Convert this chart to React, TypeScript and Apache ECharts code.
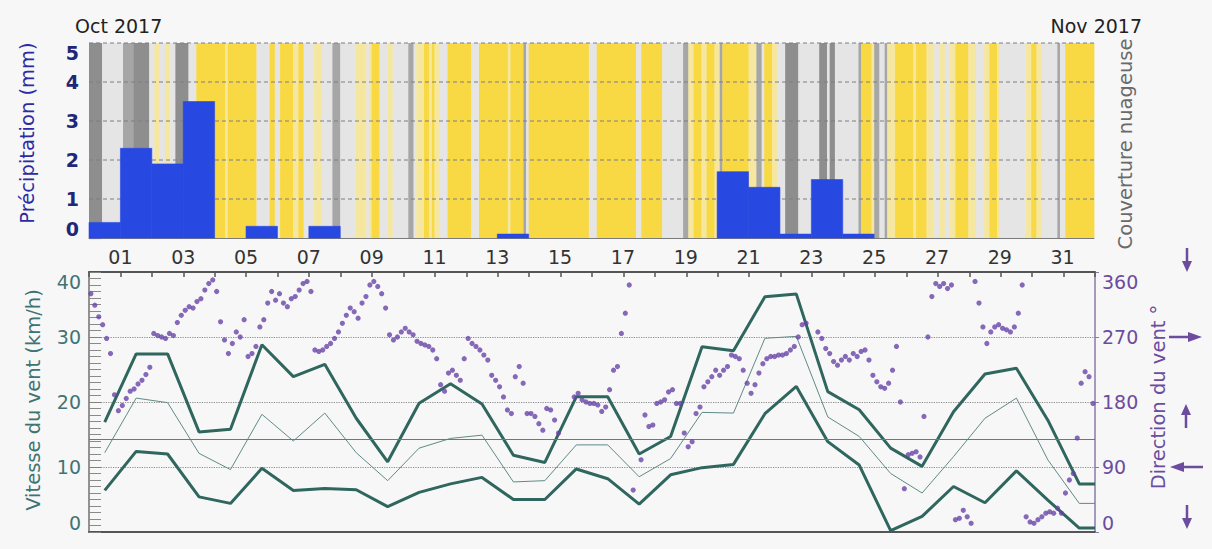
import React, { useEffect, useRef } from "react";
import * as echarts from "echarts";

// ---------- DATA ----------
const dayTickLabels = ["01","03","05","07","09","11","13","15","17","19","21","23","25","27","29","31"];
const monthLabels = ["Oct 2017", "Nov 2017"];
const precipTicks = [1, 2, 3, 4, 5];

// daily precipitation (mm), one bar per day slot (32 slots)
const precipitation = [0.4, 2.3, 1.9, 3.5, 0, 0.3, 0, 0.3, 0, 0, 0, 0, 0, 0.1, 0, 0,
  0, 0, 0, 0, 1.7, 1.3, 0.1, 1.5, 0.1, 0, 0, 0, 0, 0, 0, 0];

// cloud cover per day, 12 two-hour slots: y=sunny, p=few clouds, l=cloudy, m=overcast, d=dense
const cloudCodes = "yplmd";
const cloudColors = ["#f8d944", "#f6e7a0", "#e5e5e5", "#a6a6a6", "#8e8e8e"];
const cloudCover = [
  "dddddlllllll", "lmmmmddddddl", "lppllppllddd", "ddlllyyyyyyy",
  "yyyypyyyyyyy", "yyyylllllyyl", "lyyyyyppyyll", "llpppllllmmm",
  "llllllpppplp", "yyylllppllll", "llmmlpppyypy", "pplllyyyyyyy",
  "yylllyyyyyyy", "yyyypyyyyyml", "yyyyyyyyyyyy", "yyyyyyyyyyyl",
  "llyyyyyyyyyy", "yyyyyllyyyyy", "yyyllllllllm", "mppyyyppyyyp",
  "pmyyyyyyyyyy", "pppmmlyyyppl", "lldddddlllll", "llldddlddlll",
  "llllllmyyyyp", "mmllmpppyyyy", "yyypyyyypppl", "lppllppyyyyy",
  "ppplllppyyyp", "llllllllllpp", "yyppllllllml", "lyyyyyyyyyyy",
];

// daily wind speed (km/h)
const windMax = [16.9, 27.4, 27.4, 15.4, 15.8, 28.8, 23.9, 25.8, 17.5, 10.8, 19.8, 22.8, 19.7, 11.8, 10.7, 20.8,
  20.8, 12.0, 14.7, 28.5, 27.9, 36.2, 36.6, 21.6, 18.8, 12.9, 10.1, 18.5, 24.3, 25.2, 17.2, 7.4];
const windMean = [12.2, 20.6, 19.9, 12.1, 9.6, 18.1, 14.0, 18.3, 12.2, 7.9, 12.9, 14.4, 14.9, 7.7, 7.9, 13.4,
  13.4, 8.5, 11.3, 18.4, 18.3, 29.8, 30.1, 17.7, 14.7, 9.0, 6.0, 11.6, 17.5, 20.6, 11.1, 4.4];
const windMin = [6.4, 12.4, 12.0, 5.4, 4.4, 9.8, 6.4, 6.7, 6.5, 3.9, 6.1, 7.4, 8.4, 5.0, 5.0, 9.7,
  8.2, 4.3, 8.8, 9.9, 10.4, 18.2, 22.4, 13.9, 10.3, 0.2, 2.4, 7.0, 4.5, 9.4, 4.9, 0.6];
const windReference = 14.3;

// wind direction (degrees), 8 three-hour readings per day
const windDirection = [
  [330, 314, 298, 287, 268, 247, 190, 168],
  [175, 185, 195, 198, 205, 210, 218, 228],
  [275, 272, 270, 268, 275, 272, 290, 300],
  [307, 312, 310, 319, 323, 335, 344, 349],
  [333, 291, 266, 247, 261, 277, 270, 294],
  [243, 247, 257, 284, 294, 317, 333, 321],
  [330, 317, 312, 323, 326, 335, 344, 347],
  [333, 252, 250, 252, 257, 261, 268, 277],
  [289, 300, 310, 305, 296, 317, 326, 342],
  [347, 340, 330, 310, 273, 266, 270, 277],
  [282, 277, 273, 264, 261, 259, 257, 252],
  [240, 204, 195, 220, 224, 217, 210, 240],
  [268, 261, 257, 252, 245, 238, 217, 210],
  [201, 187, 169, 164, 215, 229, 206, 164],
  [164, 160, 150, 141, 171, 169, 155, 137],
  [null, null, null, 187, 192, 183, 180, 178],
  [178, 176, 167, 173, 197, 224, 229, 275],
  [303, 342, 58, null, 100, 162, 146, 148],
  [178, 180, 183, 194, 197, 178, 178, 137],
  [118, 125, 164, 173, 201, 208, 215, 224],
  [217, 224, 229, 245, 243, 240, 224, 206],
  [192, 204, 220, 233, 240, 243, 243, 245],
  [245, 247, 252, 257, 270, 287, 289, null],
  [null, 277, 268, 254, 247, 236, 231, 238],
  [243, 238, 247, 243, 250, 252, 238, 217],
  [208, 201, 199, 206, 224, 257, 180, 60],
  [107, 109, 111, 104, 160, 270, 326, 344],
  [340, 344, 337, 342, 17, 19, 30, 21],
  [12, 347, 317, 284, 261, 277, 284, 287],
  [282, 280, 277, 284, 303, 342, 21, 14],
  [12, 17, 21, 26, 28, 26, 33, 26],
  [54, 72, 81, 130, 206, 222, 215, 178],
];

// ---------- HELPERS ----------
const FONT = "DejaVu Sans";
const DAYS = precipitation.length;
const dayTicks = dayTickLabels.map((s) => parseInt(s, 10));

function cloudRuns() {
  const runs: number[][] = [];
  cloudCover.forEach((day, d) => {
    const n = day.length;
    for (let s = 0; s < n; s++) {
      const k = cloudCodes.indexOf(day[s]);
      const t0 = d + s / n;
      const t1 = d + (s + 1) / n;
      const last = runs[runs.length - 1];
      if (last && last[2] === k && Math.abs(last[1] - t0) < 1e-9) last[1] = t1;
      else runs.push([t0, t1, k]);
    }
  });
  return runs;
}

function dailyLine(vals: number[]) {
  const pts = vals.map((v, i) => [i + 0.5, v]);
  pts.push([DAYS, vals[vals.length - 1]]);
  return pts;
}

function directionPoints() {
  const pts: number[][] = [];
  windDirection.forEach((day, d) => {
    day.forEach((v, s) => {
      if (v !== null) pts.push([d + s / day.length + 0.06, v as number]);
    });
  });
  return pts;
}

const PURPLE = "#6b4c9f";

function arrow(cx: number, cy: number, dir: string) {
  const c = PURPLE;
  let shaft: number[], head: number[][];
  if (dir === "down") { shaft = [cx, cy - 12, cx, cy + 3]; head = [[cx - 5, cy + 1], [cx + 5, cy + 1], [cx, cy + 12]]; }
  else if (dir === "up") { shaft = [cx, cy + 12, cx, cy - 3]; head = [[cx - 5, cy - 1], [cx + 5, cy - 1], [cx, cy - 12]]; }
  else if (dir === "right") { shaft = [cx - 17, cy, cx + 4, cy]; head = [[cx + 2, cy - 5], [cx + 2, cy + 5], [cx + 16, cy]]; }
  else { shaft = [cx + 17, cy, cx - 4, cy]; head = [[cx - 2, cy - 5], [cx - 2, cy + 5], [cx - 16, cy]]; }
  return [
    { type: "line", shape: { x1: shaft[0], y1: shaft[1], x2: shaft[2], y2: shaft[3] }, style: { stroke: c, lineWidth: 2.5 } },
    { type: "polygon", shape: { points: head }, style: { fill: c } },
  ];
}

function vText(text: string, x: number, y: number, color: string, size = 19.5) {
  return {
    type: "text", x, y, rotation: Math.PI / 2,
    style: { text, fill: color, font: `${size}px "${FONT}"`, textAlign: "center", textVerticalAlign: "middle", align: "center", verticalAlign: "middle" },
  };
}

export default function App() {
  const ref = useRef<HTMLDivElement>(null);
  useEffect(() => {
    if (!ref.current) return;
    const chart = echarts.init(ref.current, undefined, { renderer: "svg" });
    const option: any = {
      animation: false,
      backgroundColor: "#f7f7f7",
      textStyle: { fontFamily: FONT },
      grid: [
        { left: 89, top: 43, width: 1005, height: 195 },
        { left: 89, top: 272, width: 1006, height: 260 },
      ],
      xAxis: [
        {
          gridIndex: 0, type: "value", min: 0, max: DAYS, interval: 1,
          axisLine: { show: true, onZero: false, lineStyle: { color: "#7a7a7a", width: 1 } },
          axisTick: { show: false }, splitLine: { show: false },
          axisLabel: {
            show: true, color: "#333", fontSize: 19, margin: 9, fontFamily: FONT,
            formatter: (v: number) => { const i = dayTicks.indexOf(v); return i >= 0 ? dayTickLabels[i] : ""; },
          },
        },
        {
          gridIndex: 1, type: "value", min: 0, max: DAYS, interval: 1, position: "top",
          axisLine: { show: true, onZero: false, lineStyle: { color: "#555", width: 2 } },
          axisTick: { show: true, inside: true, length: 5, lineStyle: { color: "#555", width: 1.5 } },
          axisLabel: { show: false }, splitLine: { show: false },
        },
        {
          gridIndex: 1, type: "value", min: 0, max: DAYS, interval: 1, position: "bottom",
          axisLine: { show: true, onZero: false, lineStyle: { color: "#555", width: 2 } },
          axisTick: { show: false }, axisLabel: { show: false }, splitLine: { show: false },
        },
      ],
      yAxis: [
        {
          gridIndex: 0, type: "value", min: 0, max: 5, interval: 1,
          axisLine: { show: false },
          axisTick: { show: true, inside: true, length: 12, lineStyle: { color: "#6c6ca0", width: 1.2 } },
          minorTick: { show: true, splitNumber: 10, length: 12, lineStyle: { color: "#7c7cac", width: 1 } },
          splitLine: { show: false },
          axisLabel: { color: "#1f2877", fontSize: 19, fontWeight: "bold", margin: 10, fontFamily: FONT, verticalAlignMaxLabel: "top", verticalAlignMinLabel: "bottom" },
        },
        {
          gridIndex: 1, type: "value", min: 0, max: 40, interval: 10, position: "left",
          axisLine: { show: true, onZero: false, lineStyle: { color: "#707070", width: 1.5 } },
          axisTick: { show: true, inside: true, length: 12, lineStyle: { color: "#808080", width: 1 } },
          minorTick: { show: true, splitNumber: 10, length: 12, lineStyle: { color: "#8a8a8a", width: 1 } },
          splitLine: { show: true, lineStyle: { color: "#8c8c8c", type: "dotted", width: 1.2 } },
          axisLabel: { color: "#3f7474", fontSize: 19, margin: 8, fontFamily: FONT, verticalAlignMaxLabel: "top", verticalAlignMinLabel: "bottom" },
        },
        {
          gridIndex: 1, type: "value", min: 0, max: 360, interval: 90, position: "right",
          axisLine: { show: true, onZero: false, lineStyle: { color: "#8a7aa8", width: 1.5 } },
          axisTick: { show: true, length: 4, lineStyle: { color: "#8a7aa8" } },
          splitLine: { show: false },
          axisLabel: { color: PURPLE, fontSize: 19, margin: 7, fontFamily: FONT, verticalAlignMaxLabel: "top", verticalAlignMinLabel: "bottom" },
        },
      ],
      series: [
        {
          type: "custom", name: "clouds", xAxisIndex: 0, yAxisIndex: 0, z: 1, silent: true,
          data: cloudRuns(),
          renderItem: (params: any, api: any) => {
            const x0 = api.coord([api.value(0), 0])[0];
            const x1 = api.coord([api.value(1), 0])[0];
            const cs = params.coordSys;
            return { type: "rect", shape: { x: x0, y: cs.y, width: x1 - x0 + 0.4, height: cs.height }, style: { fill: cloudColors[api.value(2)] } };
          },
        },
        {
          type: "custom", name: "precipGrid", xAxisIndex: 0, yAxisIndex: 0, z: 2, silent: true,
          data: precipTicks.map((v) => [0, v]),
          renderItem: (params: any, api: any) => {
            const y = api.coord([0, api.value(1)])[1];
            const cs = params.coordSys;
            return { type: "line", shape: { x1: cs.x, y1: y, x2: cs.x + cs.width, y2: y }, style: { stroke: "#7d7d8a", lineWidth: 1, lineDash: [4, 3] } };
          },
        },
        {
          type: "custom", name: "Précipitation", xAxisIndex: 0, yAxisIndex: 0, z: 3,
          data: precipitation.map((v, i) => [i, v]).filter((p) => p[1] > 0),
          renderItem: (params: any, api: any) => {
            const a = api.coord([api.value(0), api.value(1)]);
            const b = api.coord([api.value(0) + 1, 0]);
            return { type: "rect", shape: { x: a[0], y: a[1], width: b[0] - a[0], height: b[1] - a[1] }, style: { fill: "#2848e2", stroke: "#2848e2", lineWidth: 0.6 } };
          },
        },
        {
          type: "line", name: "max", xAxisIndex: 1, yAxisIndex: 1, z: 4, showSymbol: false, symbol: "none",
          data: dailyLine(windMax), lineStyle: { color: "#2f665e", width: 3 },
        },
        {
          type: "line", name: "mean", xAxisIndex: 1, yAxisIndex: 1, z: 4, showSymbol: false, symbol: "none",
          data: dailyLine(windMean), lineStyle: { color: "#5f8a84", width: 1 },
          markLine: {
            silent: true, symbol: "none", label: { show: false },
            lineStyle: { color: "#6a7a7a", type: "solid", width: 1.2 },
            data: [{ yAxis: windReference }],
          },
        },
        {
          type: "line", name: "min", xAxisIndex: 1, yAxisIndex: 1, z: 4, showSymbol: false, symbol: "none",
          data: dailyLine(windMin), lineStyle: { color: "#2f665e", width: 3 },
        },
        {
          type: "scatter", name: "direction", xAxisIndex: 1, yAxisIndex: 2, z: 5,
          symbolSize: 5.2, itemStyle: { color: "#6843a6" },
          data: directionPoints(),
        },
      ],
      graphic: [
        { type: "text", x: 75, y: 26, style: { text: monthLabels[0], fill: "#222", font: `19px "${FONT}"`, textVerticalAlign: "middle", verticalAlign: "middle" } },
        { type: "text", x: 1142, y: 26, style: { text: monthLabels[1], fill: "#222", font: `19px "${FONT}"`, textAlign: "right", align: "right", textVerticalAlign: "middle", verticalAlign: "middle" } },
        vText("Précipitation (mm)", 27, 133, "#2b2ba3"),
        vText("Couverture nuageuse", 1125, 144, "#6a6a6a"),
        vText("Vitesse du vent (km/h)", 33, 400, "#3e7373"),
        vText("Direction du vent °", 1158, 397, PURPLE),
        ...arrow(1187, 260, "down"),
        ...arrow(1186, 337, "right"),
        ...arrow(1186, 416, "up"),
        ...arrow(1186, 467, "left"),
        ...arrow(1187, 517, "down"),
      ],
    };
    chart.setOption(option);
    return () => chart.dispose();
  }, []);
  return <div ref={ref} style={{ position: "absolute", left: 0, top: 0, width: 1212, height: 549, background: "#f7f7f7" }} />;
}
